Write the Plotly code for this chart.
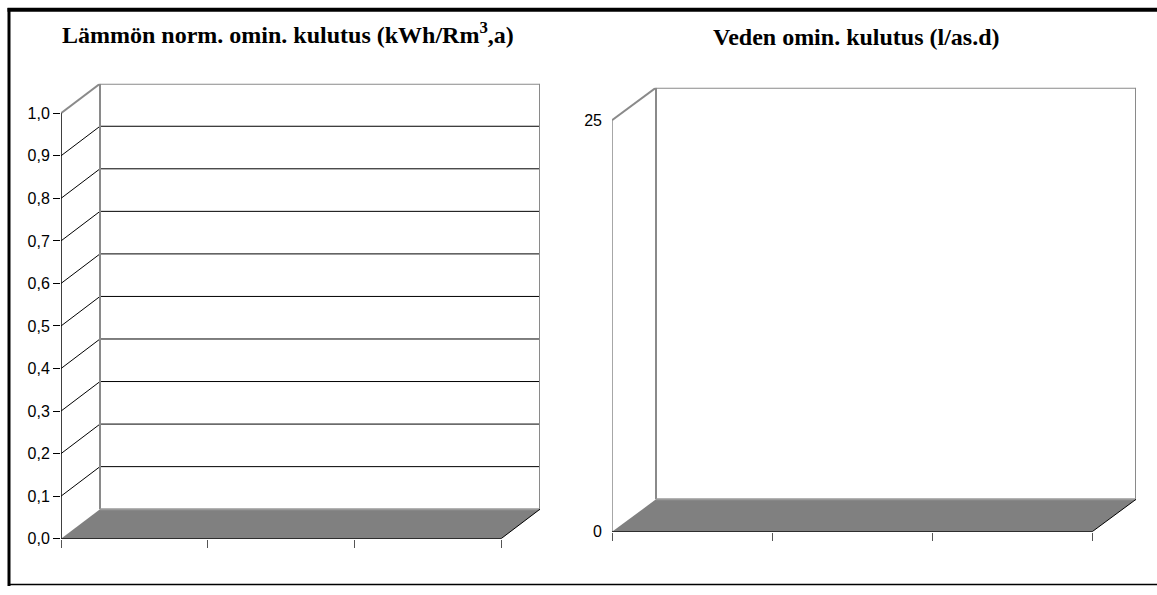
import plotly.graph_objects as go

W, H = 1157, 595

# ---- data (empty charts: only axes and tick labels) ----
categories = ["", "", ""]
left_values = []          # no data shown
right_values = []         # no data shown
left_title = "Lämmön norm. omin. kulutus (kWh/Rm<sup>3</sup>,a)"
right_title = "Veden omin. kulutus (l/as.d)"
left_ticks = [0.0, 0.1, 0.2, 0.3, 0.4, 0.5, 0.6, 0.7, 0.8, 0.9, 1.0]
left_ticktext = ["0,0", "0,1", "0,2", "0,3", "0,4", "0,5", "0,6", "0,7", "0,8", "0,9", "1,0"]
right_ticks = [0, 25]
right_ticktext = ["0", "25"]
x_ticks = [0, 1, 2, 3]

# ---- layout geometry (pixels) ----
def px(x):
    return x / W

def py(y):
    return 1 - y / H

# left chart
L_front_x0, L_front_x1 = 61, 501
L_y0, L_y1 = 547, 115
L_ddx, L_ddy = 39, 30
L_xu = (L_front_x1 - L_front_x0) / len(categories)
L_dx = L_ddx / L_xu
L_yu = (L_y0 - L_y1) / (left_ticks[-1] - left_ticks[0])
L_dy = L_ddy / L_yu
L_ymax = left_ticks[-1]

# right chart
R_front_x0, R_front_x1 = 612, 1092
R_y0, R_y1 = 540, 122
R_ddx, R_ddy = 44, 33
R_xu = (R_front_x1 - R_front_x0) / len(categories)
R_dx = R_ddx / R_xu
R_yu = (R_y0 - R_y1) / (right_ticks[-1] - right_ticks[0])
R_dy = R_ddy / R_yu
R_ymax = right_ticks[-1]

fig = go.Figure()
fig.add_trace(go.Scatter(x=[], y=left_values, xaxis="x", yaxis="y", showlegend=False))
fig.add_trace(go.Scatter(x=[], y=right_values, xaxis="x2", yaxis="y2", showlegend=False))

GRAY = "#8a8a8a"
FLOOR = "#808080"
shapes = []

def line(x0, y0, x1, y1, xr, yr, color, w):
    shapes.append(dict(type="line", x0=x0, y0=y0, x1=x1, y1=y1, xref=xr, yref=yr,
                       line=dict(color=color, width=w), layer="above"))

def chart(xr, yr, n, dx, dy, ymax, grid_vals, axis_color):
    # floor
    shapes.append(dict(type="path", xref=xr, yref=yr,
                       path=f"M 0 0 L {dx} {dy} L {n+dx} {dy} L {n} 0 Z",
                       fillcolor=FLOOR, line=dict(width=0), layer="above"))
    # gridlines on side wall and back wall
    for v in grid_vals:
        line(0, v, dx, v + dy, xr, yr, "black", 1)
        line(dx, v + dy, n + dx, v + dy, xr, yr, "black", 1)
    # back wall outline
    line(dx, dy, dx, ymax + dy, xr, yr, GRAY, 2)
    line(n + dx, dy, n + dx, ymax + dy, xr, yr, GRAY, 2)
    line(dx, ymax + dy, n + dx, ymax + dy, xr, yr, GRAY, 2)
    line(0, ymax, dx, ymax + dy, xr, yr, GRAY, 2)
    line(dx, dy, n + dx, dy, xr, yr, "#9a9a9a", 2)
    # front value axis
    line(0, 0, 0, ymax, xr, yr, axis_color, 1.5)
    # floor front edges
    line(0, 0, n, 0, xr, yr, "black", 1.5)
    line(n, 0, n + dx, dy, xr, yr, "black", 1)

n = len(categories)
chart("x", "y", n, L_dx, L_dy, L_ymax, left_ticks[1:-1], "black")
chart("x2", "y2", n, R_dx, R_dy, R_ymax, [], GRAY)

# outer frame
shapes.append(dict(type="line", xref="paper", yref="paper", x0=px(9), x1=px(9), y0=py(8), y1=py(595),
                   line=dict(color="black", width=3)))
shapes.append(dict(type="line", xref="paper", yref="paper", x0=px(7.5), x1=px(1157), y0=py(10), y1=py(10),
                   line=dict(color="black", width=4)))
shapes.append(dict(type="line", xref="paper", yref="paper", x0=px(8), x1=px(1157), y0=py(593.5), y1=py(593.5),
                   line=dict(color="black", width=1.5)))

tickfont = dict(family="Liberation Sans, Arial", size=16, color="black")
common_x = dict(showgrid=False, zeroline=False, showline=False, showticklabels=False,
                ticks="outside", ticklen=8, tickwidth=1, tickcolor="#555555",
                tickmode="array", tickvals=x_ticks, fixedrange=True)

fig.update_layout(
    width=W, height=H,
    margin=dict(l=0, r=0, t=0, b=0),
    paper_bgcolor="white", plot_bgcolor="white",
    showlegend=False,
    shapes=shapes,
    xaxis=dict(common_x, domain=[px(L_front_x0), px(L_front_x1 + L_ddx)],
               range=[0, n + L_dx], anchor="y"),
    yaxis=dict(domain=[py(L_y0), py(L_y1 - L_ddy)], range=[0, L_ymax + L_dy], anchor="x",
               showgrid=False, zeroline=False, showline=False,
               tickmode="array", tickvals=left_ticks, ticktext=left_ticktext,
               ticks="outside", ticklen=7, tickwidth=1, tickcolor="black",
               tickfont=tickfont, fixedrange=True),
    xaxis2=dict(common_x, domain=[px(R_front_x0), px(R_front_x1 + R_ddx)],
                range=[0, n + R_dx], anchor="y2"),
    yaxis2=dict(domain=[py(R_y0), py(R_y1 - R_ddy)], range=[0, R_ymax + R_dy], anchor="x2",
                showgrid=False, zeroline=False, showline=False,
                tickmode="array", tickvals=right_ticks, ticktext=right_ticktext,
                ticks="", ticklabelstandoff=9,
                tickfont=tickfont, fixedrange=True),
    annotations=[
        dict(text="<b>" + left_title + "</b>", xref="paper", yref="paper", x=px(288), y=py(33),
             xanchor="center", yanchor="middle", showarrow=False,
             font=dict(family="Liberation Serif, Times New Roman", size=24, color="black")),
        dict(text="<b>" + right_title + "</b>", xref="paper", yref="paper", x=px(856), y=py(38),
             xanchor="center", yanchor="middle", showarrow=False,
             font=dict(family="Liberation Serif, Times New Roman", size=24, color="black")),
    ],
)

post = """
document.documentElement.style.margin='0';
document.documentElement.style.overflow='hidden';
document.body.style.margin='0';
document.body.style.overflow='hidden';
"""
fig.write_html("out.html", config={"displayModeBar": False}, post_script=post)
